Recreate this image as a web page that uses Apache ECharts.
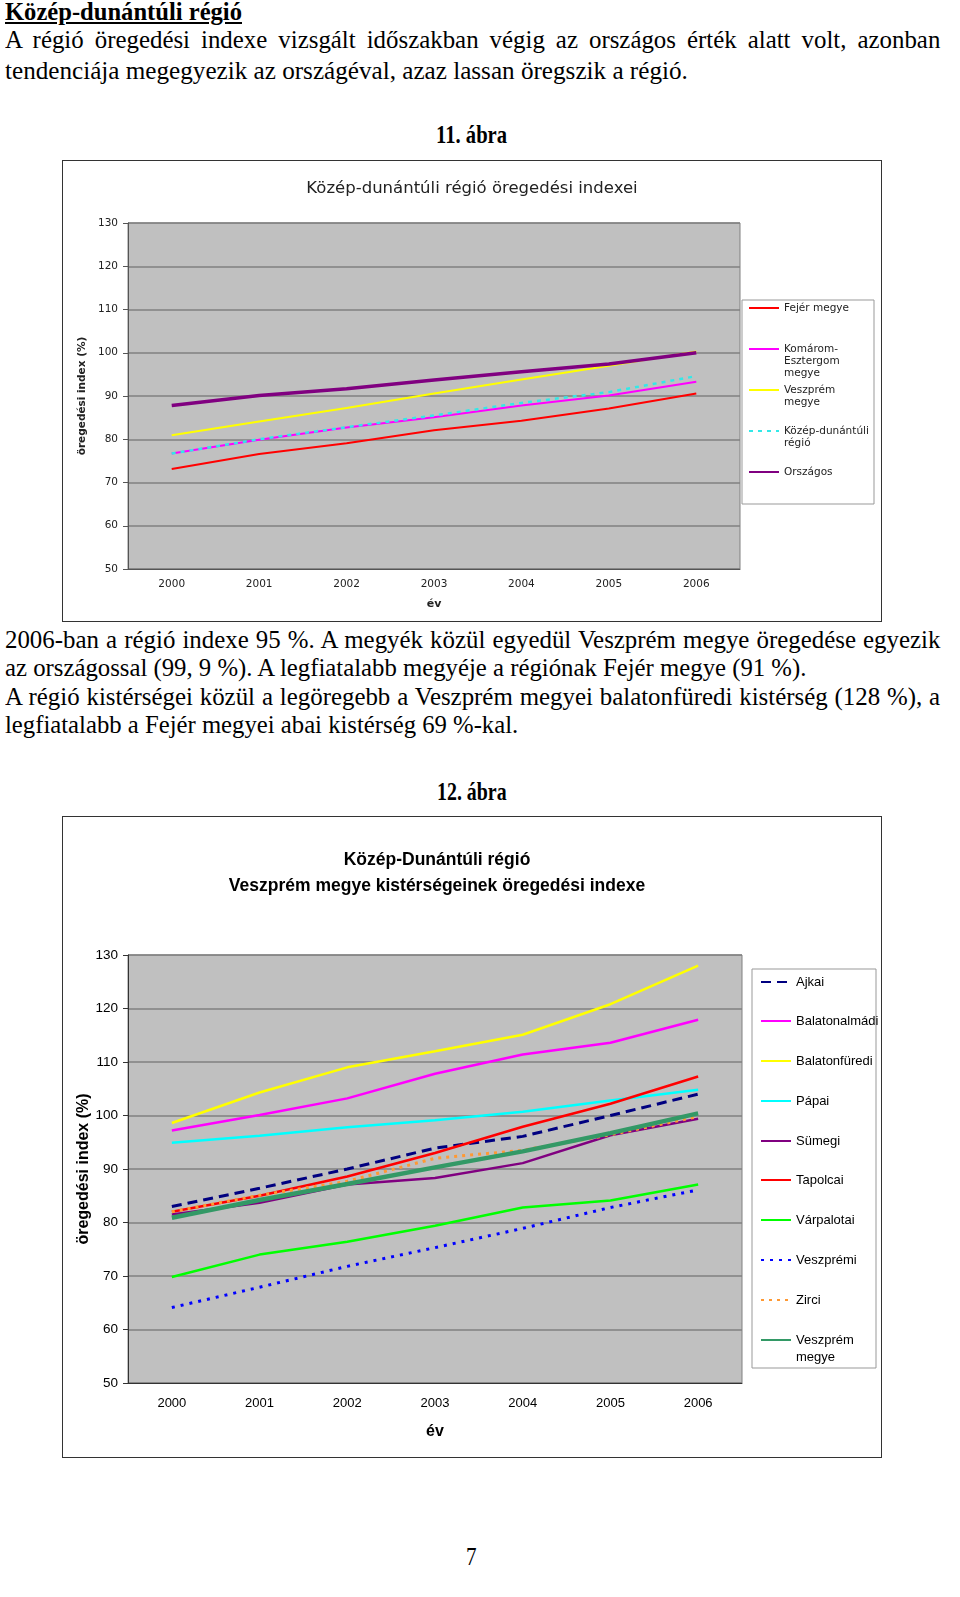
<!DOCTYPE html>
<html><head><meta charset="utf-8">
<script src="https://cdn.jsdelivr.net/npm/echarts@6/dist/echarts.min.js"></script>
<style>
html,body{margin:0;padding:0;background:#fff;}
body{width:960px;height:1597px;position:relative;overflow:hidden;}
.ln{position:absolute;white-space:nowrap;font-family:"Liberation Serif","Times New Roman",serif;font-size:25px;line-height:30px;height:30px;color:#000;transform-origin:0 50%;}
.b{font-weight:bold;}
.u{text-decoration:underline;}
.frame{position:absolute;border:1.5px solid #333;box-sizing:border-box;pointer-events:none;}
.chart{position:absolute;}
</style></head><body>
<span class="ln b u" data-cy="12" data-l="5" data-r="242">Közép-dunántúli régió</span>
<span class="ln" data-cy="40" data-l="5" data-r="940" data-j="1">A régió öregedési indexe vizsgált időszakban végig az országos érték alatt volt, azonban</span>
<span class="ln" data-cy="71" data-l="5" data-r="688" data-body="1">tendenciája megegyezik az országéval, azaz lassan öregszik a régió.</span>
<span class="ln b" data-cy="135" data-l="436" data-r="507">11. ábra</span>
<span class="ln" data-cy="640" data-l="5" data-r="940" data-j="1">2006-ban a régió indexe 95 %. A megyék közül egyedül Veszprém megye öregedése egyezik</span>
<span class="ln" data-cy="668" data-l="5" data-r="806" data-body="1">az országossal (99, 9 %). A legfiatalabb megyéje a régiónak Fejér megye (91 %).</span>
<span class="ln" data-cy="697" data-l="5" data-r="940" data-j="1">A régió kistérségei közül a legöregebb a Veszprém megyei balatonfüredi kistérség (128 %), a</span>
<span class="ln" data-cy="725" data-l="5" data-r="518" data-body="1">legfiatalabb a Fejér megyei abai kistérség 69 %-kal.</span>
<span class="ln b" data-cy="792" data-l="437" data-r="507">12. ábra</span>
<span class="ln" data-cy="1557" data-l="466" data-r="477">7</span>

<div id="c1" class="chart" style="left:62px;top:160px;width:820px;height:462px;"></div>
<div class="frame" style="left:62px;top:160px;width:820px;height:462px;"></div>
<div id="c2" class="chart" style="left:62px;top:816px;width:820px;height:642px;"></div>
<div class="frame" style="left:62px;top:816px;width:820px;height:642px;"></div>

<script>
// ---------- data ----------
const years = ['2000', '2001', '2002', '2003', '2004', '2005', '2006'];
const yTicks = [50, 60, 70, 80, 90, 100, 110, 120, 130];

// 11. ábra
const names1 = ['Fejér megye', 'Komárom-Esztergom megye', 'Veszprém megye', 'Közép-dunántúli régió', 'Országos'];
const fejer = [73.1, 76.6, 79.1, 82.1, 84.3, 87.1, 90.6];
const komarom = [76.7, 79.9, 82.7, 85.1, 87.8, 90.1, 93.3];
const veszpremMegye1 = [80.9, 84.1, 87.2, 90.6, 93.8, 97.0, 100.3];
const kozepDunantuli = [76.7, 80.0, 82.8, 85.5, 88.4, 90.9, 94.6];
const orszagos = [87.8, 90.1, 91.7, 93.7, 95.6, 97.4, 100.0];

// 12. ábra
const names2 = ['Ajkai', 'Balatonalmádi', 'Balatonfüredi', 'Pápai', 'Sümegi', 'Tapolcai', 'Várpalotai', 'Veszprémi', 'Zirci', 'Veszprém megye'];
const ajkai = [83.0, 86.4, 90.0, 93.9, 96.1, 100.0, 104.0];
const balatonalmadi = [97.2, 100.1, 103.2, 107.8, 111.4, 113.6, 117.9];
const balatonfuredi = [98.6, 104.3, 109.0, 112.0, 115.1, 120.8, 128.0];
const papai = [94.9, 96.2, 97.8, 99.1, 100.7, 102.8, 104.8];
const sumegi = [81.5, 83.7, 87.1, 88.3, 91.1, 96.3, 99.4];
const tapolcai = [82.0, 85.0, 88.6, 93.0, 97.9, 102.2, 107.3];
const varpalotai = [69.8, 74.0, 76.4, 79.4, 82.8, 84.1, 87.1];
const veszpremi = [64.1, 67.9, 71.8, 75.3, 78.9, 82.8, 86.1];
const zirci = [82.0, 85.1, 87.7, 92.0, 93.5, 96.4, 99.8];
const veszpremMegye2 = [80.9, 84.2, 87.2, 90.3, 93.3, 96.7, 100.4];

// ---------- page text layout ----------
(function () {
  const els = Array.from(document.querySelectorAll('.ln'));
  const scales = [];
  els.forEach(el => { el._w = el.offsetWidth; });
  els.forEach(el => {
    const l = +el.dataset.l, r = +el.dataset.r, cy = +el.dataset.cy;
    el.style.left = l + 'px';
    el.style.top = (cy - 15) + 'px';
    if (!el.dataset.j) {
      const s = (r - l) / el._w;
      el.style.transform = 'scaleX(' + s + ')';
      if (el.dataset.body) scales.push(s);
    }
  });
  const sAvg = scales.reduce((a, b) => a + b, 0) / scales.length;
  els.forEach(el => {
    if (el.dataset.j) {
      const l = +el.dataset.l, r = +el.dataset.r;
      const n = (el.textContent.match(/ /g) || []).length;
      const ws = ((r - l) / sAvg - el._w) / n;
      el.style.wordSpacing = ws + 'px';
      el.style.transform = 'scaleX(' + sAvg + ')';
    }
  });
})();

// ---------- helpers ----------
function legendItem(name, label, iconX, cy, textStyle, lh) {
  const lines = label.split('\n');
  const n = lines.length;
  const text = '\n'.repeat(n - 1) + label;
  const blockH = (2 * n - 1) * lh;
  const ih = 10;
  return {
    data: [name], left: iconX, top: cy - Math.max(blockH, ih) / 2,
    orient: 'vertical', itemWidth: 30, itemHeight: ih, itemGap: 0, padding: 0,
    selectedMode: false, formatter: function () { return text; },
    itemStyle: { opacity: 0, borderWidth: 0 },
    textStyle: Object.assign({ lineHeight: lh }, textStyle)
  };
}
function lineSeries(name, data, color, width, type) {
  return {
    name: name, type: 'line', data: data, symbol: 'none', smooth: false, silent: true,
    itemStyle: { color: color },
    lineStyle: { color: color, width: width, type: type || 'solid' },
    emphasis: { disabled: true }
  };
}

// ---------- chart 1 ----------
const f1 = '"DejaVu Sans", Verdana, sans-serif';
const c1 = echarts.init(document.getElementById('c1'), null, { renderer: 'canvas' });
const labels1 = ['Fejér megye', 'Komárom-\nEsztergom\nmegye', 'Veszprém\nmegye', 'Közép-dunántúli\nrégió', 'Országos'];
const legCy1 = [148, 189, 230, 271, 312];
const lt1 = { fontFamily: f1, fontSize: 10.5, color: '#222' };
c1.setOption({
  animation: false,
  title: { text: 'Közép-dunántúli régió öregedési indexei', left: 'center', top: 15,
    textStyle: { fontFamily: f1, fontSize: 16.5, fontWeight: 'normal', color: '#222' } },
  grid: { left: 66, top: 63, width: 612, height: 346, show: true, backgroundColor: '#C0C0C0', borderColor: '#808080', borderWidth: 1 },
  graphic: [{ type: 'rect', z: 1, shape: { x: 680, y: 140, width: 132, height: 204 }, style: { fill: '#fff', stroke: '#999', lineWidth: 1 } }],
  legend: names1.map((n, i) => legendItem(n, labels1[i], 686, legCy1[i], lt1, 12)),
  xAxis: {
    type: 'category', data: years, boundaryGap: true,
    axisLine: { lineStyle: { color: '#555' } }, axisTick: { length: 5, lineStyle: { color: '#555' } },
    axisLabel: { fontFamily: f1, fontSize: 10.5, color: '#222', margin: 10 },
    name: 'év', nameLocation: 'middle', nameGap: 30, nameMoveOverlap: false,
    nameTextStyle: { fontFamily: f1, fontSize: 11, fontWeight: 'bold', color: '#222' }
  },
  yAxis: {
    type: 'value', min: 50, max: 130, interval: 10,
    axisLine: { show: true, lineStyle: { color: '#555' } }, axisTick: { show: true, length: 5, lineStyle: { color: '#555' } },
    axisLabel: { fontFamily: f1, fontSize: 10.5, color: '#222', margin: 10 },
    splitLine: { lineStyle: { color: '#808080', width: 1.5 } },
    name: 'öregedési index (%)', nameLocation: 'middle', nameGap: 40, nameMoveOverlap: false,
    nameTextStyle: { fontFamily: f1, fontSize: 10.5, fontWeight: 'bold', color: '#222' }
  },
  series: [
    lineSeries(names1[0], fejer, '#FF0000', 2),
    lineSeries(names1[1], komarom, '#FF00FF', 2),
    lineSeries(names1[2], veszpremMegye1, '#FFFF00', 2),
    lineSeries(names1[3], kozepDunantuli, '#33E8E8', 2.5, [4, 5]),
    lineSeries(names1[4], orszagos, '#800080', 3.5)
  ]
});

// ---------- chart 2 ----------
const f2 = '"Liberation Sans", Arial, sans-serif';
const c2 = echarts.init(document.getElementById('c2'), null, { renderer: 'canvas' });
const labels2 = ['Ajkai', 'Balatonalmádi', 'Balatonfüredi', 'Pápai', 'Sümegi', 'Tapolcai', 'Várpalotai', 'Veszprémi', 'Zirci', 'Veszprém\nmegye'];
const legCy2 = [166, 205, 245, 285, 325, 364, 404, 444, 484, 524];
const lt2 = { fontFamily: f2, fontSize: 13, color: '#000' };
c2.setOption({
  animation: false,
  grid: { left: 66, top: 139, width: 614, height: 428, show: true, backgroundColor: '#C0C0C0', borderColor: '#808080', borderWidth: 1 },
  graphic: [
    { type: 'rect', z: 1, shape: { x: 690, y: 153, width: 124, height: 399 }, style: { fill: '#fff', stroke: '#999', lineWidth: 1 } },
    { type: 'text', z: 5, x: 375, y: 44, style: { text: 'Közép-Dunántúli régió', font: 'bold 17.5px "Liberation Sans", Arial, sans-serif', fill: '#000', align: 'center', verticalAlign: 'middle' } },
    { type: 'text', z: 5, x: 375, y: 70, style: { text: 'Veszprém megye kistérségeinek öregedési indexe', font: 'bold 17.5px "Liberation Sans", Arial, sans-serif', fill: '#000', align: 'center', verticalAlign: 'middle' } }
  ],
  legend: names2.map((n, i) => legendItem(n, labels2[i], 698, legCy2[i], lt2, 17)),
  xAxis: {
    type: 'category', data: years, boundaryGap: true,
    axisLine: { lineStyle: { color: '#333' } }, axisTick: { length: 5, lineStyle: { color: '#333' } },
    axisLabel: { fontFamily: f2, fontSize: 13, color: '#000', margin: 14 },
    name: 'év', nameLocation: 'middle', nameGap: 41, nameMoveOverlap: false,
    nameTextStyle: { fontFamily: f2, fontSize: 16, fontWeight: 'bold', color: '#000' }
  },
  yAxis: {
    type: 'value', min: 50, max: 130, interval: 10,
    axisLine: { show: true, lineStyle: { color: '#333' } }, axisTick: { show: true, length: 5, lineStyle: { color: '#333' } },
    axisLabel: { fontFamily: f2, fontSize: 13.5, color: '#000', margin: 10 },
    splitLine: { lineStyle: { color: '#808080', width: 1.5 } },
    name: 'öregedési index (%)', nameLocation: 'middle', nameGap: 36, nameMoveOverlap: false,
    nameTextStyle: { fontFamily: f2, fontSize: 16, fontWeight: 'bold', color: '#000' }
  },
  series: [
    lineSeries(names2[0], ajkai, '#000080', 3, [10, 6]),
    lineSeries(names2[1], balatonalmadi, '#FF00FF', 2.5),
    lineSeries(names2[2], balatonfuredi, '#FFFF00', 2.5),
    lineSeries(names2[3], papai, '#00FFFF', 2.5),
    lineSeries(names2[4], sumegi, '#800080', 2.5),
    lineSeries(names2[5], tapolcai, '#FF0000', 2.5),
    lineSeries(names2[6], varpalotai, '#00FF00', 2.5),
    lineSeries(names2[7], veszpremi, '#0000FF', 3, [3, 6]),
    lineSeries(names2[8], zirci, '#FF9933', 3, [3, 5]),
    lineSeries(names2[9], veszpremMegye2, '#339966', 4.5)
  ]
});
</script>
</body></html>
